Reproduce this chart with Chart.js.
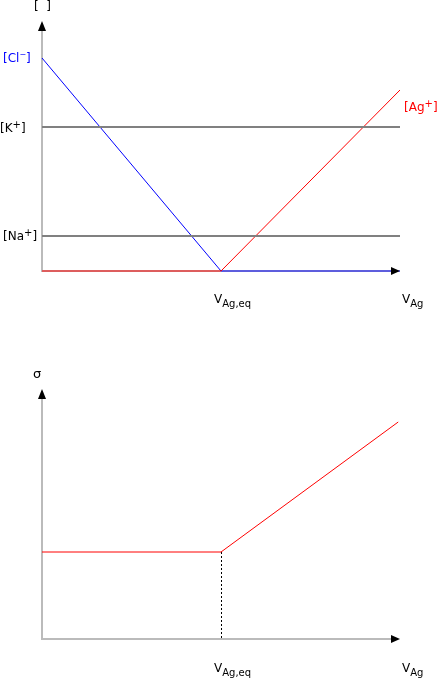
<!DOCTYPE html>
<html>
<head>
<meta charset="utf-8">
<script src="https://cdn.jsdelivr.net/npm/chart.js@4.4.1/dist/chart.umd.min.js"></script>
<style>
  html, body { margin: 0; padding: 0; background: #fff; }
  .wrap { width: 438px; height: 339px; position: relative; }
  canvas { display: block; }
</style>
</head>
<body>
<div class="wrap"><canvas id="top" width="438" height="339"></canvas></div>
<div class="wrap"><canvas id="bottom" width="438" height="339"></canvas></div>
<script>
// ---- data (arbitrary units) ----
// x: titrant volume V_Ag, with V_Ag,eq = 1
const vPoints = [0, 1, 2];
const vBottomEnd = 1.99;
// top panel: concentrations
const clConc = [213, 0, 0];       // [Cl-]
const agConc = [0, 0, 181];       // [Ag+]
const kConc = [144, 144];         // [K+] constant
const naConc = [35, 35];          // [Na+] constant
const concMax = 249;
// bottom panel: conductivity sigma
const sigmaX = [0, 1, vBottomEnd];
const sigmaVals = [87, 87, 217];
const sigmaMax = 249;
const eqX = 1;
// labels
const yLabelsTop = ['[Cl', '[K', '[Na'];
const xTickLabel = { main: 'V', sub: 'Ag,eq' };
const xAxisLabel = { main: 'V', sub: 'Ag' };

const FONT = '"DejaVu Sans", Verdana, sans-serif';

function drawRich(ctx, x, y, parts, color) {
  ctx.save();
  ctx.fillStyle = color;
  ctx.textBaseline = 'alphabetic';
  ctx.textAlign = 'left';
  let cx = x;
  for (const p of parts) {
    ctx.font = (p.size || 12) + 'px ' + FONT;
    ctx.fillText(p.t, cx, y + (p.dy || 0));
    cx += ctx.measureText(p.t).width;
  }
  ctx.restore();
}

function drawAxes(chart) {
  const ctx = chart.ctx;
  const a = chart.chartArea;
  const x0 = chart.scales.x.getPixelForValue(0);
  const y0 = chart.scales.y.getPixelForValue(0);
  ctx.save();
  ctx.strokeStyle = '#bbbbbb';
  ctx.lineWidth = 2;
  ctx.beginPath();
  ctx.moveTo(x0, y0 + 1);
  ctx.lineTo(x0, a.top + 8);
  ctx.moveTo(x0 - 1, y0);
  ctx.lineTo(a.right - 8, y0);
  ctx.stroke();
  ctx.fillStyle = '#000';
  // y arrow
  ctx.beginPath();
  ctx.moveTo(x0, a.top - 1);
  ctx.lineTo(x0 - 4, a.top + 9);
  ctx.lineTo(x0 + 4, a.top + 9);
  ctx.closePath();
  ctx.fill();
  ctx.restore();
}
function drawXArrow(chart) {
  const ctx = chart.ctx;
  const a = chart.chartArea;
  const y0 = chart.scales.y.getPixelForValue(0);
  ctx.save();
  ctx.fillStyle = '#000';
  ctx.beginPath();
  ctx.moveTo(a.right, y0);
  ctx.lineTo(a.right - 9, y0 - 4);
  ctx.lineTo(a.right - 9, y0 + 4);
  ctx.closePath();
  ctx.fill();
  ctx.restore();
}

const baseOptions = (padding, yMax) => ({
  responsive: false,
  animation: false,
  events: [],
  layout: { padding },
  plugins: { legend: { display: false }, tooltip: { enabled: false } },
  scales: {
    x: { type: 'linear', min: 0, max: 2, display: false },
    y: { type: 'linear', min: 0, max: yMax, display: false }
  },
  elements: { point: { radius: 0 }, line: { tension: 0, borderWidth: 1 } }
});

const line = (xs, ys, color, width) => ({
  data: xs.map((x, i) => ({ x, y: ys[i] })),
  borderColor: color,
  borderWidth: width,
  pointRadius: 0,
  fill: false,
  clip: false
});

// ---- top chart ----
new Chart(document.getElementById('top'), {
  type: 'line',
  data: {
    datasets: [
      line([vPoints[0], vPoints[2]], kConc, '#808080', 2),
      line([vPoints[0], vPoints[2]], naConc, '#808080', 2),
      line(vPoints, agConc, '#ff0000', 1),
      line(vPoints, clConc, '#0000ff', 1)
    ]
  },
  options: baseOptions({ left: 42, right: 38, top: 22, bottom: 68 }, concMax),
  plugins: [{
    id: 'decor',
    beforeDatasetsDraw(chart) { drawAxes(chart); },
    afterDatasetsDraw(chart) {
      drawXArrow(chart);
      const ctx = chart.ctx;
      const ys = chart.scales.y;
      const xs = chart.scales.x;
      drawRich(ctx, 34, 10, [{ t: '[  ]' }], '#000');
      drawRich(ctx, 3, Math.round(ys.getPixelForValue(clConc[0])) + 4,
        [{ t: yLabelsTop[0] }, { t: '\u2212', size: 8, dy: -5 }, { t: ']' }], '#0000ff');
      drawRich(ctx, 0, Math.round(ys.getPixelForValue(kConc[0])) + 5,
        [{ t: yLabelsTop[1] }, { t: '+', size: 10, dy: -4 }, { t: ']' }], '#000');
      drawRich(ctx, 3, Math.round(ys.getPixelForValue(naConc[0])) + 4,
        [{ t: yLabelsTop[2] }, { t: '+', size: 10, dy: -4 }, { t: ']' }], '#000');
      drawRich(ctx, 404, 111,
        [{ t: '[Ag' }, { t: '+', size: 10, dy: -4 }, { t: ']' }], '#ff0000');
      const xe = xs.getPixelForValue(eqX);
      drawRich(ctx, xe - 7, 303, [{ t: xTickLabel.main }, { t: xTickLabel.sub, size: 10, dy: 4 }], '#000');
      drawRich(ctx, 402, 303, [{ t: xAxisLabel.main }, { t: xAxisLabel.sub, size: 10, dy: 4 }], '#000');
    }
  }]
});

// ---- bottom chart ----
new Chart(document.getElementById('bottom'), {
  type: 'line',
  data: {
    datasets: [
      line(sigmaX, sigmaVals, '#ff0000', 1)
    ]
  },
  options: baseOptions({ left: 42, right: 38, top: 51, bottom: 39 }, sigmaMax),
  plugins: [{
    id: 'decor2',
    beforeDatasetsDraw(chart) {
      drawAxes(chart);
      const ctx = chart.ctx;
      const xs = chart.scales.x, ys = chart.scales.y;
      const px = Math.round(xs.getPixelForValue(eqX)) + 0.5;
      ctx.save();
      ctx.strokeStyle = '#000';
      ctx.lineWidth = 1;
      ctx.setLineDash([2, 2]);
      ctx.beginPath();
      ctx.moveTo(px, ys.getPixelForValue(sigmaVals[1]));
      ctx.lineTo(px, ys.getPixelForValue(0));
      ctx.stroke();
      ctx.restore();
    },
    afterDatasetsDraw(chart) {
      drawXArrow(chart);
      const ctx = chart.ctx;
      const xs = chart.scales.x;
      drawRich(ctx, 33, 378 - 339, [{ t: '\u03c3', size: 13 }], '#000');
      const xe = xs.getPixelForValue(eqX);
      drawRich(ctx, xe - 7, 672 - 339, [{ t: xTickLabel.main }, { t: xTickLabel.sub, size: 10, dy: 4 }], '#000');
      drawRich(ctx, 402, 672 - 339, [{ t: xAxisLabel.main }, { t: xAxisLabel.sub, size: 10, dy: 4 }], '#000');
    }
  }]
});
</script>
</body>
</html>
